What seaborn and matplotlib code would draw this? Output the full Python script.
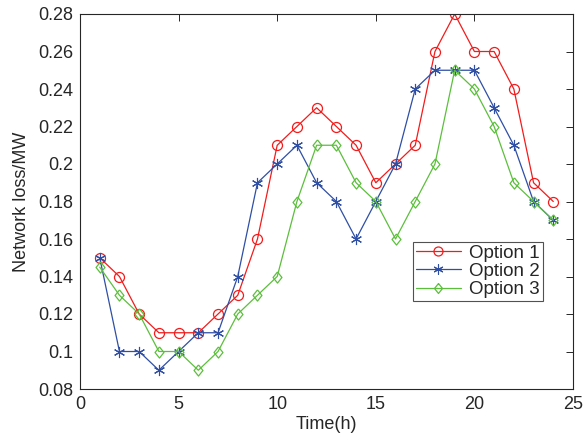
import matplotlib
matplotlib.use("Agg")
import matplotlib.pyplot as plt
import seaborn as sns
import pandas as pd

hours = list(range(1, 25))
option1 = [0.15, 0.14, 0.12, 0.11, 0.11, 0.11, 0.12, 0.13, 0.16, 0.21, 0.22, 0.23,
           0.22, 0.21, 0.19, 0.20, 0.21, 0.26, 0.28, 0.26, 0.26, 0.24, 0.19, 0.18]
option2 = [0.15, 0.10, 0.10, 0.09, 0.10, 0.11, 0.11, 0.14, 0.19, 0.20, 0.21, 0.19,
           0.18, 0.16, 0.18, 0.20, 0.24, 0.25, 0.25, 0.25, 0.23, 0.21, 0.18, 0.17]
option3 = [0.145, 0.13, 0.12, 0.10, 0.10, 0.09, 0.10, 0.12, 0.13, 0.14, 0.18, 0.21,
           0.21, 0.19, 0.18, 0.16, 0.18, 0.20, 0.25, 0.24, 0.22, 0.19, 0.18, 0.17]
labels = ["Option 1", "Option 2", "Option 3"]
colors = ["#f21c1c", "#2f4fa5", "#5cbf3c"]

df = pd.DataFrame({"hour": hours * 3,
                   "loss": option1 + option2 + option3,
                   "option": [l for l in labels for _ in hours]})

# MATLAB-like marker shapes: circle, six-armed asterisk, tall diamond
tall_diamond = [(0, 1), (0.8, 0), (0, -1), (-0.8, 0), (0, 1)]
marker_styles = [
    dict(marker="o", markersize=7.2, markeredgewidth=0.9),
    dict(marker=(6, 2, 0), markersize=8, markeredgewidth=0.8),
    dict(marker=tall_diamond, markersize=8, markeredgewidth=0.9),
]

sns.set_style("white")
plt.rcParams["font.family"] = ["Liberation Sans", "DejaVu Sans"]

fig = plt.figure(figsize=(5.87, 4.46), dpi=100)
ax = fig.add_axes([80 / 587, 1 - 389 / 446, (573 - 80) / 587, (389 - 14) / 446])

for lab, col, ms in zip(labels, colors, marker_styles):
    sub = df[df["option"] == lab]
    sns.lineplot(data=sub, x="hour", y="loss", ax=ax, color=col, linewidth=0.9,
                 label=lab, markerfacecolor="none", markeredgecolor=col, **ms)

ax.set_xlim(0, 25)
ax.set_ylim(0.08, 0.28)
ax.set_xticks([0, 5, 10, 15, 20, 25])
ax.set_yticks([0.08, 0.1, 0.12, 0.14, 0.16, 0.18, 0.2, 0.22, 0.24, 0.26, 0.28])
ax.set_yticklabels(["0.08", "0.1", "0.12", "0.14", "0.16", "0.18", "0.2",
                    "0.22", "0.24", "0.26", "0.28"])
ax.tick_params(direction="in", length=5, width=0.7, top=True, right=True,
               labelsize=13, colors="#262626", pad=5)
for sp in ax.spines.values():
    sp.set_color("#262626")
    sp.set_linewidth(0.8)
ax.set_xlabel("Time(h)", fontsize=13, labelpad=2)
ax.set_ylabel("Network loss/MW", fontsize=13, labelpad=6)

leg = ax.legend(loc="upper left", bbox_to_anchor=((413 - 80) / 493, 1 - (242 - 14) / 375),
                fontsize=13.5, frameon=True, fancybox=False, borderpad=0.15,
                labelspacing=0.05, handlelength=2.4, handletextpad=0.45,
                borderaxespad=0, markerscale=0.9)
leg.get_frame().set_edgecolor("#262626")
leg.get_frame().set_linewidth(0.8)

fig.savefig("out.png", dpi=100)
